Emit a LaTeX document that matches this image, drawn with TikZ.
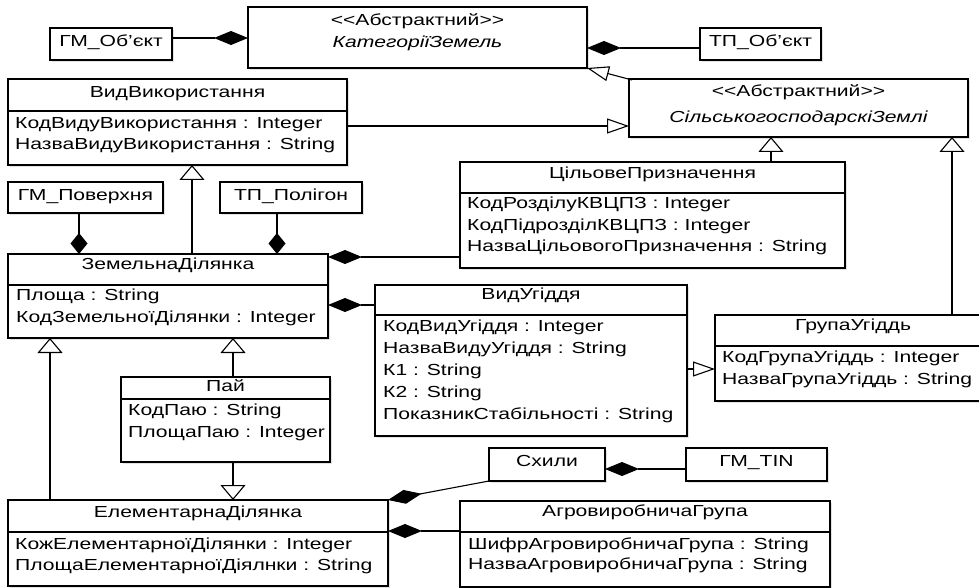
\documentclass[tikz,border=0pt]{standalone}
\usepackage{fontspec}
\setmainfont{Liberation Sans}[FakeStretch=1.32, Ligatures=ResetAll]
\usetikzlibrary{arrows.meta,shadows,calc}
\newcommand\umlfont{\fontsize{16pt}{19pt}\selectfont}
\newcommand\ubox[5]{\node[ubox, minimum width={(#4)-(#2)}, minimum height={(#5)-(#3)}] (#1) at (#2,#3) {};}
\newcommand\usep[2]{\draw[uline] (#1.west |- 0,#2) -- (#1.east |- 0,#2);}
\tikzset{
  uline/.style={line width=1.1pt},
  ubox/.style={draw, line width=1.1pt, fill=white, anchor=north west, inner sep=0pt, outer sep=0pt,
    drop shadow={shadow xshift=2pt, shadow yshift=-2pt, fill=black!22}},
  ttl/.style={inner sep=0pt, font=\umlfont, anchor=mid},
  att/.style={inner sep=0pt, font=\umlfont, anchor=mid west},
  comph/.style={line width=1.1pt, -{Diamond[length=34pt,width=14pt]}},
  compv/.style={line width=1.1pt, -{Diamond[length=21pt,width=17pt]}},
  genh/.style={line width=1.1pt, -{Triangle[open,length=22pt,width=15pt,fill=white]}},
  genv/.style={line width=1.1pt, -{Triangle[open,length=15pt,width=25pt,fill=white]}},
}
\begin{document}
\begin{tikzpicture}[x=1pt,y=-1pt]
\clip (0,0) rectangle (979,588);
\fill[white] (0,0) rectangle (979,588);
% boxes
\ubox{kz}{248}{7}{587}{68}
\node[ttl] (kzs) at (417.5,23) {{<}{<}Абстрактний{>}{>}};
\node[ttl] (kzn) at (417.5,45) {\itshape КатегоріїЗемель};
\ubox{gmob}{50}{28}{172}{60}
\node[ttl] (gmobt) at (111,44) {ГМ\_Об'єкт};
\ubox{tpob}{700}{28}{821}{60}
\node[ttl] (tpobt) at (760.5,44) {ТП\_Об'єкт};
\ubox{vv}{8}{79}{347}{165}
\usep{vv}{111}
\node[ttl] (vvt) at (177.5,95) {ВидВикористання};
\node[att] (vva1) at (15,126) {КодВидуВикористання : Integer};
\node[att] (vva2) at (15,147) {НазваВидуВикористання : String};
\ubox{sgz}{629}{79}{968}{137}
\node[ttl] (sgzs) at (798.5,94) {{<}{<}Абстрактний{>}{>}};
\node[ttl] (sgzn) at (798.5,120) {\itshape СільськогосподарскіЗемлі};
\ubox{cp}{460}{162}{845}{268}
\usep{cp}{193}
\node[ttl] (cpt) at (652.5,176) {ЦільовеПризначення};
\node[att] (cpa1) at (467,206) {КодРозділуКВЦПЗ : Integer};
\node[att] (cpa2) at (467,228) {КодПідрозділКВЦПЗ : Integer};
\node[att] (cpa3) at (467,249) {НазваЦільовогоПризначення : String};
\ubox{gmpov}{8}{182}{163}{213}
\node[ttl] (gmpovt) at (85.5,197.5) {ГМ\_Поверхня};
\ubox{tppol}{220}{182}{362}{213}
\node[ttl] (tppolt) at (291,197.5) {ТП\_Полігон};
\ubox{zd}{8}{254}{328}{338}
\usep{zd}{285}
\node[ttl] (zdt) at (168,267) {ЗемельнаДілянка};
\node[att] (zda1) at (16,298) {Площа : String};
\node[att] (zda2) at (16,320) {КодЗемельноїДілянки : Integer};
\ubox{vu}{375}{285}{687}{436}
\usep{vu}{315}
\node[ttl] (vut) at (531,297) {ВидУгіддя};
\node[att] (vua1) at (383,329) {КодВидУгіддя : Integer};
\node[att] (vua2) at (383,351) {НазваВидуУгіддя : String};
\node[att] (vua3) at (383,373) {К1 : String};
\node[att] (vua4) at (383,395) {К2 : String};
\node[att] (vua5) at (383,417) {ПоказникСтабільності : String};
\ubox{gu}{715}{315}{991}{401}
\usep{gu}{346}
\node[ttl] (gut) at (853,328) {ГрупаУгіддь};
\node[att] (gua1) at (722,360) {КодГрупаУгіддь : Integer};
\node[att] (gua2) at (722,382) {НазваГрупаУгіддь : String};
\ubox{pai}{121}{377}{330}{462}
\usep{pai}{399}
\node[ttl] (pait) at (225.5,389) {Пай};
\node[att] (paia1) at (128,413) {КодПаю : String};
\node[att] (paia2) at (128,435) {ПлощаПаю : Integer};
\ubox{ed}{8}{500}{388}{586}
\usep{ed}{532}
\node[ttl] (edt) at (198,515) {ЕлементарнаДілянка};
\node[att] (eda1) at (15,547) {КожЕлементарноїДілянки : Integer};
\node[att] (eda2) at (15,568) {ПлощаЕлементарноїДіялнки : String};
\ubox{sxy}{489}{448}{605}{481}
\node[ttl] (sxyt) at (547,464) {Схили};
\ubox{gmtin}{686}{448}{827}{481}
\node[ttl] (gmtint) at (756.5,464) {ГМ\_TIN};
\ubox{ag}{460}{501}{830}{587}
\usep{ag}{532}
\node[ttl] (agt) at (645,514) {АгровиробничаГрупа};
\node[att] (aga1) at (468,547) {ШифрАгровиробничаГрупа : String};
\node[att] (aga2) at (468,567) {НазваАгровиробничаГрупа : String};
% connectors
\draw[comph] (gmob.east |- 0,38) -- (kz.west |- 0,38);
\draw[comph] (tpob.west |- 0,48) -- (kz.east |- 0,48);
\draw[genh] ($(sgz.north west)+(3,1)$) -- (kz.south east);
\draw[genh] (vv.east |- 0,126) -- (sgz.west |- 0,126);
\draw[genv] (cp.north -| 771,0) -- (sgz.south -| 771,0);
\draw[genv] (gu.north -| 952,0) -- (sgz.south -| 952,0);
\draw[genv] (zd.north -| 192,0) -- (vv.south -| 192,0);
\draw[compv] (gmpov.south -| 79,0) -- (zd.north -| 79,0);
\draw[compv] (tppol.south -| 277,0) -- (zd.north -| 277,0);
\draw[comph] (cp.west |- 0,257) -- (zd.east |- 0,257);
\draw[comph] (vu.west |- 0,305) -- (zd.east |- 0,305);
\draw[genh] (vu.east |- 0,369) -- (gu.west |- 0,369);
\draw[genv] (pai.north -| 233,0) -- (zd.south -| 233,0);
\draw[genv] (ed.north -| 50,0) -- (zd.south -| 50,0);
\draw[genv] (pai.south -| 233,0) -- (ed.north -| 233,0);
\draw[comph] (sxy.south west) -- (ed.north east);
\draw[comph] (gmtin.west |- 0,469) -- (sxy.east |- 0,469);
\draw[comph] (ag.west |- 0,531) -- (ed.east |- 0,531);
\end{tikzpicture}
\end{document}
